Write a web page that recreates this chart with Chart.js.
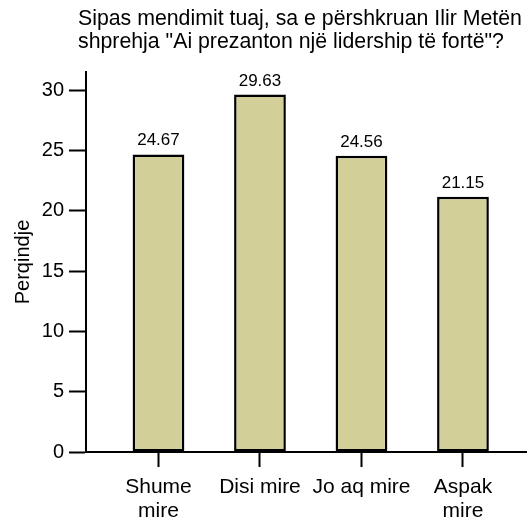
<!DOCTYPE html>
<html>
<head>
<meta charset="utf-8">
<script src="https://cdn.jsdelivr.net/npm/chart.js@4.4.0/dist/chart.umd.min.js"></script>
<style>
  html, body { margin: 0; padding: 0; background: #fff; }
  #wrap { width: 527px; height: 521px; }
</style>
</head>
<body>
<div id="wrap"><canvas id="chart" width="527" height="521"></canvas></div>
<script>
// data
const categories = [['Shume', 'mire'], ['Disi mire'], ['Jo aq mire'], ['Aspak', 'mire']];
const values = [24.67, 29.63, 24.56, 21.15];
const yTicks = [0, 5, 10, 15, 20, 25, 30];
const titleLines = ['Sipas mendimit tuaj, sa e përshkruan Ilir Metën', 'shprehja "Ai prezanton një lidership të fortë"?'];
const yLabel = 'Perqindje';

const FONT = "'Liberation Sans', Arial, sans-serif";

// title drawn by hand so it can sit left-aligned like the original
const titlePlugin = {
  id: 'leftTitle',
  afterDraw(chart) {
    const ctx = chart.ctx;
    ctx.save();
    ctx.fillStyle = '#000';
    ctx.font = '21.3px ' + FONT;
    ctx.textAlign = 'left';
    ctx.textBaseline = 'alphabetic';
    ctx.fillText(titleLines[0], 78, 25);
    ctx.fillText(titleLines[1], 78, 48);
    ctx.restore();
  }
};

// value labels above each bar
const valueLabels = {
  id: 'valueLabels',
  afterDatasetsDraw(chart) {
    const ctx = chart.ctx;
    const meta = chart.getDatasetMeta(0);
    ctx.save();
    ctx.fillStyle = '#000';
    ctx.font = '17px ' + FONT;
    ctx.textAlign = 'center';
    ctx.textBaseline = 'alphabetic';
    meta.data.forEach((bar, i) => {
      ctx.fillText(values[i].toFixed(2), bar.x, bar.y - 9);
    });
    ctx.restore();
  }
};

new Chart(document.getElementById('chart'), {
  type: 'bar',
  data: {
    datasets: [{
      data: values.map((v, i) => ({ x: i, y: v })),
      backgroundColor: '#d3cf99',
      borderColor: '#000',
      borderWidth: 2.5,
      borderSkipped: false,
      barPercentage: 0.51,
      categoryPercentage: 1
    }]
  },
  options: {
    responsive: false,
    animation: false,
    layout: { padding: { top: 72, right: 1, bottom: 0, left: 0 } },
    plugins: {
      legend: { display: false },
      tooltip: { enabled: false },
      title: { display: false }
    },
    scales: {
      x: {
        type: 'linear',
        min: -0.714,
        max: 3.621,
        offset: false,
        afterBuildTicks: (scale) => { scale.ticks = categories.map((c, i) => ({ value: i })); },
        afterFit: (scale) => { scale.height = 69; },
        ticks: {
          autoSkip: false,
          maxRotation: 0,
          padding: 8,
          color: '#000',
          font: { family: FONT, size: 21, lineHeight: 1.15 },
          callback: (v) => categories[v]
        },
        grid: {
          offset: false,
          drawOnChartArea: false,
          drawTicks: true,
          tickLength: 15,
          tickWidth: 2,
          tickColor: '#000'
        },
        border: { display: true, color: '#000', width: 2 }
      },
      y: {
        min: 0,
        max: 31.5,
        afterBuildTicks: (scale) => { scale.ticks = yTicks.map(v => ({ value: v })); },
        afterFit: (scale) => { scale.width = 86; },
        ticks: {
          padding: 5,
          color: '#000',
          font: { family: FONT, size: 20 }
        },
        grid: {
          drawOnChartArea: false,
          drawTicks: true,
          tickLength: 17,
          tickWidth: 2,
          tickColor: '#000'
        },
        border: { display: true, color: '#000', width: 2 },
        title: {
          display: true,
          text: yLabel,
          color: '#000',
          font: { family: FONT, size: 20 },
          padding: { top: 11, bottom: 0 }
        }
      }
    }
  },
  plugins: [titlePlugin, valueLabels]
});
</script>
</body>
</html>
